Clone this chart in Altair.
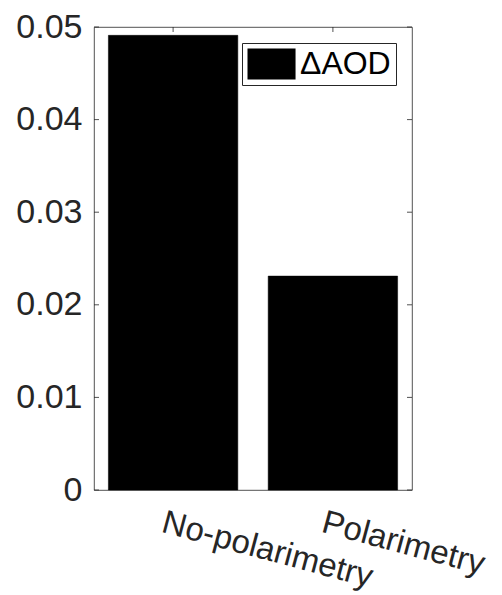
import altair as alt
import pandas as pd

# Bar values (ΔAOD) per retrieval configuration
categories = ["No-polarimetry", "Polarimetry"]
delta_aod = [0.0491, 0.0231]
series_name = "ΔAOD"
y_ticks = [0, 0.01, 0.02, 0.03, 0.04, 0.05]

W, H = 318, 463
TICK = 5
FONT = "Liberation Sans"
INK = "#262626"
FS = 34

bars_df = pd.DataFrame({
    "method": categories,
    "value": delta_aod,
    "series": [series_name] * len(categories),
})
yticks_df = pd.DataFrame({"tick": y_ticks})
xticks_df = pd.DataFrame({"method": categories})

x_scale = alt.Scale(domain=categories, paddingInner=0.19, paddingOuter=0.09)
y_scale = alt.Scale(domain=[0, 0.05], nice=False, zero=True)

x_axis = alt.Axis(
    title=None, labelAngle=15, labelAlign="left", labelBaseline="top",
    labelPadding=16, labelOffset=-6, labelLimit=400, ticks=False, tickSize=0,
    domain=False, grid=False, labelFontSize=33, labelFont=FONT,
    labelColor=INK, labelOverlap=False,
)
y_axis = alt.Axis(
    title=None, values=y_ticks, format="~g", labelPadding=12, ticks=False,
    tickSize=0, domain=False, grid=False, labelFontSize=FS, labelFont=FONT,
    labelColor=INK,
)

x_enc = alt.X("method:N", scale=x_scale, sort=categories, axis=x_axis)

# Inward-pointing ticks on all four sides of the box
left_ticks = alt.Chart(yticks_df).mark_rule(color=INK, strokeWidth=0.8).encode(
    y=alt.Y("tick:Q", scale=y_scale, axis=y_axis),
    x=alt.value(0), x2=alt.value(TICK),
)
right_ticks = alt.Chart(yticks_df).mark_rule(color=INK, strokeWidth=0.8).encode(
    y=alt.Y("tick:Q", scale=y_scale, axis=y_axis),
    x=alt.value(W - TICK), x2=alt.value(W),
)
top_ticks = alt.Chart(xticks_df).mark_rule(color=INK, strokeWidth=0.8).encode(
    x=x_enc, y=alt.value(0), y2=alt.value(TICK),
)
bottom_ticks = alt.Chart(xticks_df).mark_rule(color=INK, strokeWidth=0.8).encode(
    x=x_enc, y=alt.value(H - TICK), y2=alt.value(H),
)

bars = alt.Chart(bars_df).mark_bar(stroke="black", strokeWidth=0.5).encode(
    x=x_enc,
    y=alt.Y("value:Q", scale=y_scale, axis=y_axis),
    color=alt.Color(
        "series:N",
        scale=alt.Scale(domain=[series_name], range=["black"]),
        legend=alt.Legend(
            title=None, orient="none", legendX=148, legendY=16,
            symbolType="M-1,-1L2.1,-1L2.1,1L-1,1Z", symbolSize=961,
            symbolStrokeWidth=0, labelOffset=21, padding=5,
            strokeColor=INK, fillColor="white",
            labelFontSize=32, labelFont=FONT, labelColor="black",
        ),
    ),
)

chart = (
    alt.layer(left_ticks, right_ticks, top_ticks, bottom_ticks, bars)
    .properties(
        width=W, height=H,
        autosize=alt.AutoSizeParams(type="none"),
        padding={"left": 94, "top": 27, "right": 90, "bottom": 105},
        background="white",
    )
    .configure_view(stroke=INK, strokeWidth=0.8)
)

chart.save("out.html", embed_options={"renderer": "svg", "actions": False})
